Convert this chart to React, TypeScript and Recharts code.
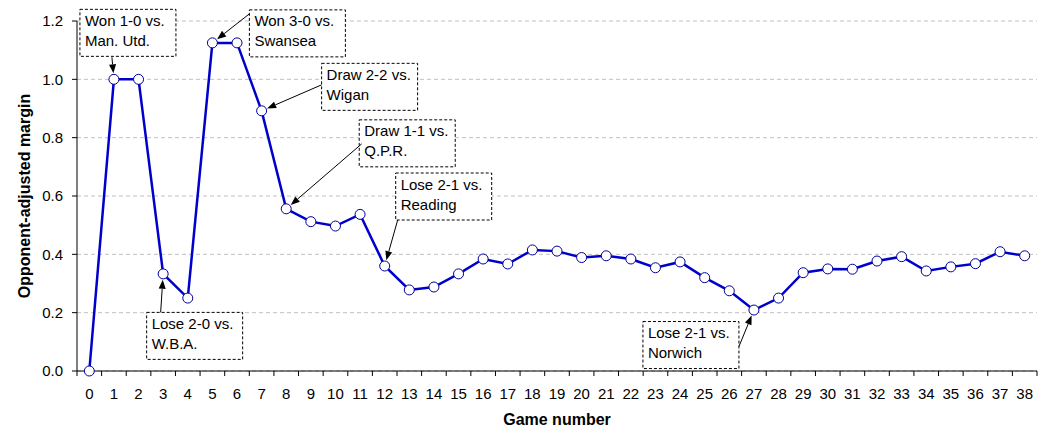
import React from 'react';
import { LineChart, Line, XAxis, YAxis, CartesianGrid, ReferenceDot } from 'recharts';

const games = [0, 1, 2, 3, 4, 5, 6, 7, 8, 9, 10, 11, 12, 13, 14, 15, 16, 17, 18, 19, 20, 21, 22, 23, 24, 25, 26, 27, 28, 29, 30, 31, 32, 33, 34, 35, 36, 37, 38];
const margins = [0, 1.0, 1.0, 0.333, 0.25, 1.125, 1.125, 0.892, 0.556, 0.512, 0.497, 0.537, 0.36, 0.278, 0.288, 0.333, 0.384, 0.367, 0.415, 0.411, 0.389, 0.395, 0.384, 0.354, 0.374, 0.32, 0.275, 0.209, 0.25, 0.337, 0.35, 0.349, 0.377, 0.392, 0.343, 0.357, 0.368, 0.409, 0.395];
const yTicks = [0, 0.2, 0.4, 0.6, 0.8, 1.0, 1.2];

const noteGames = [1, 5, 7, 8, 12, 3, 27];
const noteLine1 = ['Won 1-0 vs.', 'Won 3-0 vs.', 'Draw 2-2 vs.', 'Draw 1-1 vs.', 'Lose 2-1 vs.', 'Lose 2-0 vs.', 'Lose 2-1 vs.'];
const noteLine2 = ['Man. Utd.', 'Swansea', 'Wigan', 'Q.P.R.', 'Reading', 'W.B.A.', 'Norwich'];

// callout layout (pixel offsets relative to the annotated point)
const noteLayout = [
  { dx: -34, dy: -70, ax: -2, ay: -22 },
  { dx: 37, dy: -33, ax: 37, ay: -29 },
  { dx: 60, dy: -47.5, ax: 60, ay: -26 },
  { dx: 73, dy: -89, ax: 75.5, ay: -65 },
  { dx: 11, dy: -93, ax: 13, ay: -46 },
  { dx: -16.5, dy: 38.5, ax: -2.5, ay: 38.5 },
  { dx: -111, dy: 11.5, ax: -15, ay: 36.5 },
];

const FONT = '"Liberation Sans", Arial, sans-serif';
const BOX_W = 96;
const BOX_H = 47;

const data = games.map((g, i) => ({ game: g, margin: margins[i] }));

const xTicks: number[] = [];
games.forEach((g) => {
  xTicks.push(g - 0.5, g);
});
xTicks.push(games[games.length - 1] + 0.5);

const XTick = (props: any) => {
  const { x, y, payload } = props;
  const v = payload.value;
  if (Number.isInteger(v)) {
    return (
      <text x={x} y={y + 28} textAnchor="middle" fontSize={15} fontFamily={FONT} fill="#000">
        {v}
      </text>
    );
  }
  return <line x1={x} x2={x} y1={y} y2={y + 5} stroke="#000" strokeWidth={1} />;
};

const makeCallout = (idx: number) => (props: any) => {
  const { cx, cy } = props;
  if (cx == null || cy == null) return <g />;
  const L = noteLayout[idx];
  const bx = cx + L.dx;
  const by = cy + L.dy;
  const sx = cx + L.ax;
  const sy = cy + L.ay;
  const vx = cx - sx;
  const vy = cy - sy;
  const len = Math.sqrt(vx * vx + vy * vy);
  const ux = vx / len;
  const uy = vy / len;
  const tx = cx - ux * 6;
  const ty = cy - uy * 6;
  const bxx = tx - ux * 9;
  const byy = ty - uy * 9;
  const px = -uy * 3.5;
  const py = ux * 3.5;
  return (
    <g>
      <rect x={bx} y={by} width={BOX_W} height={BOX_H} fill="#fff" stroke="#000" strokeWidth={1} strokeDasharray="3 2" />
      <text x={bx + 5} y={by + 16.5} fontSize={15} fontFamily={FONT} fill="#000">
        {noteLine1[idx]}
      </text>
      <text x={bx + 5} y={by + 36.5} fontSize={15} fontFamily={FONT} fill="#000">
        {noteLine2[idx]}
      </text>
      <line x1={sx} y1={sy} x2={bxx} y2={byy} stroke="#000" strokeWidth={1} />
      <polygon points={`${tx},${ty} ${bxx + px},${byy + py} ${bxx - px},${byy - py}`} fill="#000" />
    </g>
  );
};

export default function App() {
  return (
    <LineChart
      width={1045}
      height={431}
      data={data}
      margin={{ top: 13, right: 16, bottom: 8, left: 9 }}
      style={{ fontFamily: FONT }}
    >
      <CartesianGrid horizontal vertical={false} stroke="#c0c0c0" strokeDasharray="4 3" />
      <XAxis
        dataKey="game"
        type="number"
        domain={[-0.5, 38.5]}
        ticks={xTicks}
        interval={0}
        tickSize={0}
        tickMargin={0}
        tickLine={false}
        tick={<XTick />}
        height={60}
        axisLine={{ stroke: '#000', strokeWidth: 1 }}
        label={{
          value: 'Game number',
          position: 'insideBottom',
          offset: 6,
          style: { fontWeight: 'bold', fontSize: 16, fill: '#000', fontFamily: FONT },
        }}
      />
      <YAxis
        type="number"
        domain={[0, 1.2]}
        ticks={yTicks}
        interval={0}
        width={60}
        tickSize={5}
        tickMargin={9}
        tickFormatter={(v: number) => v.toFixed(1)}
        tick={{ fill: '#000', fontSize: 15, fontFamily: FONT }}
        tickLine={{ stroke: '#000' }}
        axisLine={{ stroke: '#000', strokeWidth: 1 }}
        label={{
          value: 'Opponent-adjusted margin',
          angle: -90,
          position: 'insideLeft',
          offset: 7,
          style: { textAnchor: 'middle', fontWeight: 'bold', fontSize: 16, fill: '#000', fontFamily: FONT },
        }}
      />
      <Line
        type="linear"
        dataKey="margin"
        stroke="#0000cc"
        strokeWidth={2.5}
        dot={{ r: 5, fill: '#fff', stroke: '#000099', strokeWidth: 1 }}
        activeDot={false}
        isAnimationActive={false}
      />
      {noteGames.map((g, i) => (
        <ReferenceDot
          key={i}
          x={g}
          y={margins[g]}
          r={0}
          ifOverflow="visible"
          shape={makeCallout(i)}
        />
      ))}
    </LineChart>
  );
}
